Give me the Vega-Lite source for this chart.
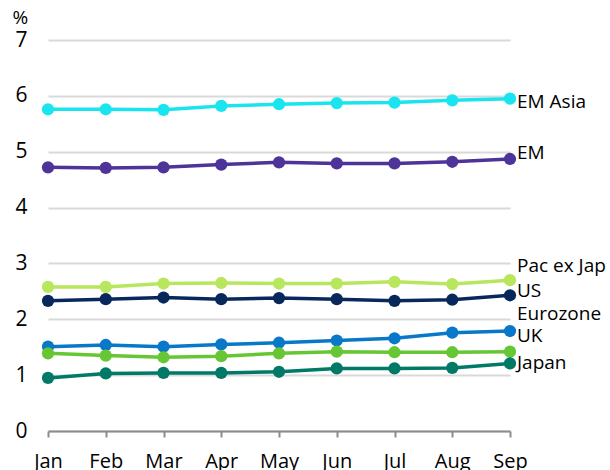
{
  "$schema": "https://vega.github.io/schema/vega-lite/v6.json",
  "width": 462,
  "height": 391,
  "autosize": {"type": "none"},
  "padding": {"left": 48, "top": 40, "right": 100, "bottom": 39},
  "background": "white",
  "config": {
    "view": {"stroke": null},
    "font": "Open Sans",
    "axis": {"labelFont": "Open Sans", "titleFont": "Open Sans"}
  },
  "datasets": {
    "series": [
      {"month": "Jan", "series": "EM Asia", "value": 5.76},
      {"month": "Feb", "series": "EM Asia", "value": 5.76},
      {"month": "Mar", "series": "EM Asia", "value": 5.75},
      {"month": "Apr", "series": "EM Asia", "value": 5.82},
      {"month": "May", "series": "EM Asia", "value": 5.85},
      {"month": "Jun", "series": "EM Asia", "value": 5.87},
      {"month": "Jul", "series": "EM Asia", "value": 5.88},
      {"month": "Aug", "series": "EM Asia", "value": 5.92},
      {"month": "Sep", "series": "EM Asia", "value": 5.95},
      {"month": "Jan", "series": "EM", "value": 4.72},
      {"month": "Feb", "series": "EM", "value": 4.71},
      {"month": "Mar", "series": "EM", "value": 4.72},
      {"month": "Apr", "series": "EM", "value": 4.77},
      {"month": "May", "series": "EM", "value": 4.81},
      {"month": "Jun", "series": "EM", "value": 4.79},
      {"month": "Jul", "series": "EM", "value": 4.79},
      {"month": "Aug", "series": "EM", "value": 4.82},
      {"month": "Sep", "series": "EM", "value": 4.87},
      {"month": "Jan", "series": "Pac ex Jap", "value": 2.58},
      {"month": "Feb", "series": "Pac ex Jap", "value": 2.58},
      {"month": "Mar", "series": "Pac ex Jap", "value": 2.64},
      {"month": "Apr", "series": "Pac ex Jap", "value": 2.65},
      {"month": "May", "series": "Pac ex Jap", "value": 2.64},
      {"month": "Jun", "series": "Pac ex Jap", "value": 2.64},
      {"month": "Jul", "series": "Pac ex Jap", "value": 2.67},
      {"month": "Aug", "series": "Pac ex Jap", "value": 2.63},
      {"month": "Sep", "series": "Pac ex Jap", "value": 2.7},
      {"month": "Jan", "series": "US", "value": 2.33},
      {"month": "Feb", "series": "US", "value": 2.36},
      {"month": "Mar", "series": "US", "value": 2.39},
      {"month": "Apr", "series": "US", "value": 2.36},
      {"month": "May", "series": "US", "value": 2.38},
      {"month": "Jun", "series": "US", "value": 2.36},
      {"month": "Jul", "series": "US", "value": 2.33},
      {"month": "Aug", "series": "US", "value": 2.35},
      {"month": "Sep", "series": "US", "value": 2.43},
      {"month": "Jan", "series": "Eurozone", "value": 1.51},
      {"month": "Feb", "series": "Eurozone", "value": 1.54},
      {"month": "Mar", "series": "Eurozone", "value": 1.51},
      {"month": "Apr", "series": "Eurozone", "value": 1.55},
      {"month": "May", "series": "Eurozone", "value": 1.58},
      {"month": "Jun", "series": "Eurozone", "value": 1.62},
      {"month": "Jul", "series": "Eurozone", "value": 1.66},
      {"month": "Aug", "series": "Eurozone", "value": 1.76},
      {"month": "Sep", "series": "Eurozone", "value": 1.79},
      {"month": "Jan", "series": "UK", "value": 1.39},
      {"month": "Feb", "series": "UK", "value": 1.35},
      {"month": "Mar", "series": "UK", "value": 1.32},
      {"month": "Apr", "series": "UK", "value": 1.34},
      {"month": "May", "series": "UK", "value": 1.39},
      {"month": "Jun", "series": "UK", "value": 1.42},
      {"month": "Jul", "series": "UK", "value": 1.41},
      {"month": "Aug", "series": "UK", "value": 1.41},
      {"month": "Sep", "series": "UK", "value": 1.42},
      {"month": "Jan", "series": "Japan", "value": 0.95},
      {"month": "Feb", "series": "Japan", "value": 1.03},
      {"month": "Mar", "series": "Japan", "value": 1.04},
      {"month": "Apr", "series": "Japan", "value": 1.04},
      {"month": "May", "series": "Japan", "value": 1.06},
      {"month": "Jun", "series": "Japan", "value": 1.12},
      {"month": "Jul", "series": "Japan", "value": 1.12},
      {"month": "Aug", "series": "Japan", "value": 1.13},
      {"month": "Sep", "series": "Japan", "value": 1.21}
    ],
    "labels": [
      {"month": "Sep", "series": "EM Asia", "labelY": 5.89},
      {"month": "Sep", "series": "EM", "labelY": 4.98},
      {"month": "Sep", "series": "Pac ex Jap", "labelY": 2.96},
      {"month": "Sep", "series": "US", "labelY": 2.51},
      {"month": "Sep", "series": "Eurozone", "labelY": 2.09},
      {"month": "Sep", "series": "UK", "labelY": 1.7},
      {"month": "Sep", "series": "Japan", "labelY": 1.21}
    ]
  },
  "layer": [
    {
      "data": {"name": "series"},
      "mark": {"type": "line", "strokeWidth": 3.5, "point": {"size": 150, "filled": true, "opacity": 1}},
      "encoding": {
        "x": {
          "field": "month", "type": "ordinal",
          "sort": ["Jan","Feb","Mar","Apr","May","Jun","Jul","Aug","Sep"],
          "scale": {"type": "point", "padding": 0},
          "axis": {
            "title": null, "labelAngle": 0, "labelFontSize": 20, "labelColor": "#000000",
            "labelPadding": 14, "domainColor": "#8c8c8c", "domainWidth": 2,
            "tickColor": "#8c8c8c", "tickWidth": 2, "tickSize": 6, "grid": false
          }
        },
        "y": {
          "field": "value", "type": "quantitative",
          "scale": {"domain": [0, 7], "nice": false},
          "axis": {
            "values": [0,1,2,3,4,5,6,7], "format": "d", "title": "%", "titleAngle": 0,
            "titleX": -36, "titleY": -13, "titleAlign": "left", "titleBaseline": "bottom",
            "titleFontSize": 19, "titleFontWeight": "normal", "titleColor": "#000000",
            "labelFontSize": 21, "labelColor": "#000000", "labelPadding": 21,
            "domain": false, "ticks": false,
            "grid": true, "gridColor": "#d9d9d9", "gridWidth": 2
          }
        },
        "color": {
          "field": "series", "type": "nominal", "legend": null,
          "scale": {
            "domain": ["EM Asia","EM","Pac ex Jap","US","Eurozone","UK","Japan"],
            "range": ["#1ae5ee","#4e3399","#b8e65c","#08285c","#0a78c8","#66c634","#007a66"]
          }
        }
      }
    },
    {
      "data": {"name": "labels"},
      "mark": {"type": "text", "align": "left", "baseline": "middle", "dx": 7, "fontSize": 19, "color": "#000000"},
      "encoding": {
        "x": {"field": "month", "type": "ordinal", "sort": ["Jan","Feb","Mar","Apr","May","Jun","Jul","Aug","Sep"]},
        "y": {"field": "labelY", "type": "quantitative"},
        "text": {"field": "series"}
      }
    }
  ]
}
